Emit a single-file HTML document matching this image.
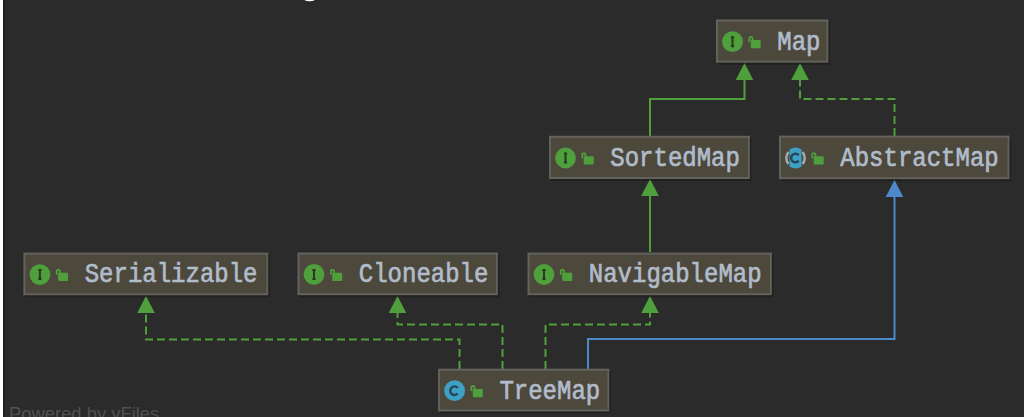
<!DOCTYPE html><html><head><meta charset="utf-8"><style>
html,body{margin:0;padding:0;}
body{width:1024px;height:417px;overflow:hidden;background:#2b2b2b;position:relative;font-family:"Liberation Mono",monospace;}
.lb{position:absolute;left:0;top:0;width:3px;height:417px;background:#fff;}
.lbs{position:absolute;left:3px;top:0;width:2px;height:417px;background:#222;}
.t{position:absolute;color:#b1bccb;font-size:24px;line-height:24px;white-space:pre;transform-origin:0 0;transform:scaleY(1.13);-webkit-text-stroke:0.6px #b1bccb;}
svg{position:absolute;left:0;top:0;}
.pw{position:absolute;left:9px;top:403.5px;font-family:"Liberation Sans",sans-serif;font-size:18.4px;line-height:20px;color:#505050;white-space:pre;}
</style></head><body>
<div class="lb"></div><div class="lbs"></div>

<svg width="1024" height="417">
<path d="M650 136V99H744.5V75" stroke="#4fa03d" stroke-width="2" fill="none"/>
<path d="M744.5 63L753.3 80L735.7 80Z" fill="#4fa03d"/>
<path d="M894.5 136V99H800V75" stroke="#4fa03d" stroke-width="2" fill="none" stroke-dasharray="8 4"/>
<path d="M800 63L808.8 80L791.2 80Z" fill="#4fa03d"/>
<path d="M650 252V190" stroke="#4fa03d" stroke-width="2" fill="none"/>
<path d="M650 179L658.8 196L641.2 196Z" fill="#4fa03d"/>
<path d="M588 369V339H894.5V190" stroke="#4b89c8" stroke-width="2" fill="none"/>
<path d="M894.5 180L903.3 197L885.7 197Z" fill="#4b89c8"/>
<path d="M459.5 369V339.5H146V305" stroke="#4fa03d" stroke-width="2" fill="none" stroke-dasharray="8 4"/>
<path d="M146 296L154.8 313L137.2 313Z" fill="#4fa03d"/>
<path d="M502.5 369V324.5H397.5V305" stroke="#4fa03d" stroke-width="2" fill="none" stroke-dasharray="8 4"/>
<path d="M397.5 296L406.3 313L388.7 313Z" fill="#4fa03d"/>
<path d="M545.5 369V324.5H650V305" stroke="#4fa03d" stroke-width="2" fill="none" stroke-dasharray="8 4"/>
<path d="M650 296L658.8 313L641.2 313Z" fill="#4fa03d"/>
<rect x="717" y="20.5" width="110.5" height="41.2" fill="#4c483c" stroke="#63625c" stroke-width="2"/>
<path d="M829.0 21.5V63.7H718" stroke="rgba(0,0,0,0.22)" stroke-width="2" fill="none"/>
<circle cx="732.5" cy="41.7" r="10.4" fill="#4fa03d"/><path d="M730.9 37.2h3.2M730.9 46.2h3.2M732.5 37.2v9" stroke="#253a1f" stroke-width="2" fill="none"/>
<path d="M749.3 41.900000000000006V38.400000000000006A1.6 1.6 0 0 1 752.5 38.400000000000006V40.2" stroke="#4fa03d" stroke-width="1.8" fill="none"/><rect x="750.7" y="40.0" width="10" height="8.2" rx="1" fill="#4fa03d"/>
<rect x="550" y="136.8" width="199" height="41.19999999999999" fill="#4c483c" stroke="#63625c" stroke-width="2"/>
<path d="M750.5 137.8V180H551" stroke="rgba(0,0,0,0.22)" stroke-width="2" fill="none"/>
<circle cx="565.5" cy="158.0" r="10.4" fill="#4fa03d"/><path d="M563.9 153.5h3.2M563.9 162.5h3.2M565.5 153.5v9" stroke="#253a1f" stroke-width="2" fill="none"/>
<path d="M582.3 158.2V154.7A1.6 1.6 0 0 1 585.5 154.7V156.5" stroke="#4fa03d" stroke-width="1.8" fill="none"/><rect x="583.7" y="156.3" width="10" height="8.2" rx="1" fill="#4fa03d"/>
<rect x="780" y="136.6" width="228.60000000000002" height="41.599999999999994" fill="#4c483c" stroke="#63625c" stroke-width="2"/>
<path d="M1010.1 137.6V180.2H781" stroke="rgba(0,0,0,0.22)" stroke-width="2" fill="none"/>
<path d="M788.5 151.99999999999997A9.2 9.2 0 0 0 788.5 163.99999999999997M802.5 151.99999999999997A9.2 9.2 0 0 1 802.5 163.99999999999997" stroke="#a8acb0" stroke-width="2.4" fill="none"/><path d="M789.5 149.49999999999997A10.4 10.4 0 0 1 801.5 149.49999999999997V166.49999999999997A10.4 10.4 0 0 1 789.5 166.49999999999997Z" fill="#3da0c4"/><path d="M798.7 155.19999999999996A4.3 4.3 0 1 0 798.7 160.79999999999998" stroke="#25465a" stroke-width="2.4" fill="none"/>
<path d="M812.3 158.19999999999996V154.69999999999996A1.6 1.6 0 0 1 815.5 154.69999999999996V156.49999999999997" stroke="#4fa03d" stroke-width="1.8" fill="none"/><rect x="813.7" y="156.29999999999998" width="10" height="8.2" rx="1" fill="#4fa03d"/>
<rect x="24.4" y="253.6" width="242.99999999999997" height="40.70000000000002" fill="#4c483c" stroke="#63625c" stroke-width="2"/>
<path d="M268.9 254.6V296.3H25.4" stroke="rgba(0,0,0,0.22)" stroke-width="2" fill="none"/>
<circle cx="39.9" cy="274.55" r="10.4" fill="#4fa03d"/><path d="M38.3 270.05h3.2M38.3 279.05h3.2M39.9 270.05v9" stroke="#253a1f" stroke-width="2" fill="none"/>
<path d="M56.699999999999996 274.75V271.25A1.6 1.6 0 0 1 59.9 271.25V273.05" stroke="#4fa03d" stroke-width="1.8" fill="none"/><rect x="58.1" y="272.85" width="10" height="8.2" rx="1" fill="#4fa03d"/>
<rect x="298.5" y="253.5" width="198.5" height="40.69999999999999" fill="#4c483c" stroke="#63625c" stroke-width="2"/>
<path d="M498.5 254.5V296.2H299.5" stroke="rgba(0,0,0,0.22)" stroke-width="2" fill="none"/>
<circle cx="314.0" cy="274.45000000000005" r="10.4" fill="#4fa03d"/><path d="M312.4 269.95000000000005h3.2M312.4 278.95000000000005h3.2M314.0 269.95000000000005v9" stroke="#253a1f" stroke-width="2" fill="none"/>
<path d="M330.8 274.65000000000003V271.15000000000003A1.6 1.6 0 0 1 334.0 271.15000000000003V272.95000000000005" stroke="#4fa03d" stroke-width="1.8" fill="none"/><rect x="332.2" y="272.75000000000006" width="10" height="8.2" rx="1" fill="#4fa03d"/>
<rect x="528.5" y="253.6" width="242.5" height="40.599999999999994" fill="#4c483c" stroke="#63625c" stroke-width="2"/>
<path d="M772.5 254.6V296.2H529.5" stroke="rgba(0,0,0,0.22)" stroke-width="2" fill="none"/>
<circle cx="544.0" cy="274.5" r="10.4" fill="#4fa03d"/><path d="M542.4 270.0h3.2M542.4 279.0h3.2M544.0 270.0v9" stroke="#253a1f" stroke-width="2" fill="none"/>
<path d="M560.8 274.7V271.2A1.6 1.6 0 0 1 564.0 271.2V273.0" stroke="#4fa03d" stroke-width="1.8" fill="none"/><rect x="562.2" y="272.8" width="10" height="8.2" rx="1" fill="#4fa03d"/>
<rect x="439.1" y="369.7" width="169.29999999999995" height="40.80000000000001" fill="#4c483c" stroke="#63625c" stroke-width="2"/>
<path d="M609.9 370.7V412.5H440.1" stroke="rgba(0,0,0,0.22)" stroke-width="2" fill="none"/>
<circle cx="454.6" cy="390.70000000000005" r="10.4" fill="#3da0c4"/><path d="M457.8 387.90000000000003A4.3 4.3 0 1 0 457.8 393.50000000000006" stroke="#25465a" stroke-width="2.4" fill="none"/>
<path d="M471.40000000000003 390.90000000000003V387.40000000000003A1.6 1.6 0 0 1 474.6 387.40000000000003V389.20000000000005" stroke="#4fa03d" stroke-width="1.8" fill="none"/><rect x="472.8" y="389.00000000000006" width="10" height="8.2" rx="1" fill="#4fa03d"/>
<ellipse cx="309.6" cy="-3" rx="7.6" ry="4.3" fill="#fff"/>
</svg>
<div class="t" style="left:777.3px;top:29.500000000000004px">Map</div>
<div class="t" style="left:610.3px;top:145.8px">SortedMap</div>
<div class="t" style="left:840.3px;top:145.79999999999998px">AbstractMap</div>
<div class="t" style="left:84.7px;top:262.35px">Serializable</div>
<div class="t" style="left:358.8px;top:262.25000000000006px">Cloneable</div>
<div class="t" style="left:588.8px;top:262.3px">NavigableMap</div>
<div class="t" style="left:499.40000000000003px;top:378.50000000000006px">TreeMap</div>
<div class="pw">Powered by yFiles</div>
</body></html>
